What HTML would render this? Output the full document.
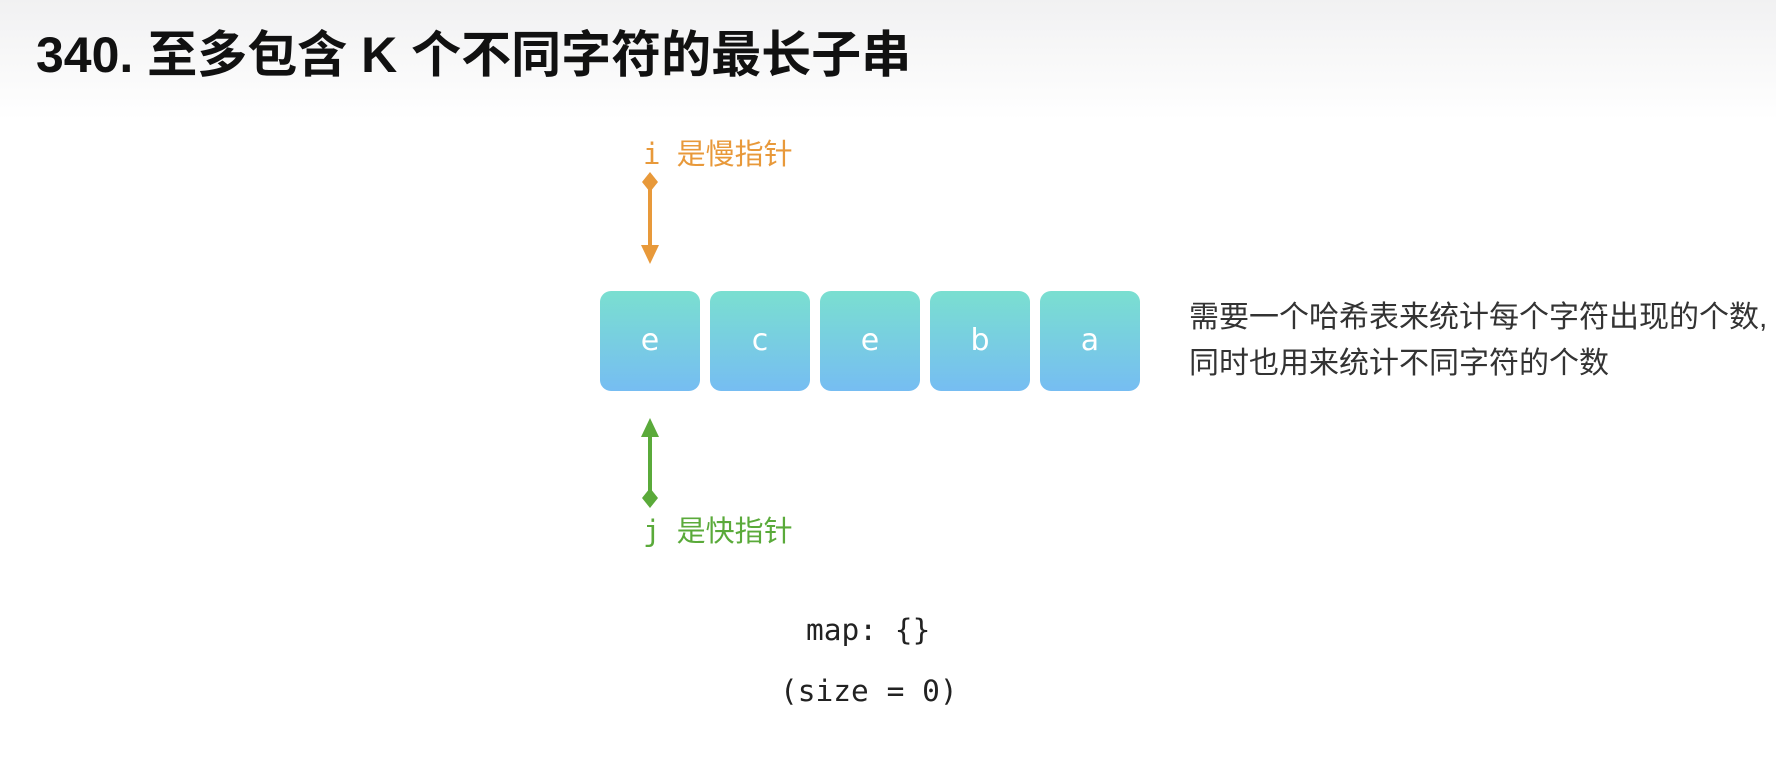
<!DOCTYPE html>
<html><head><meta charset="utf-8"><style>
body{margin:0;width:1776px;height:778px;overflow:hidden;background:#fff;position:relative;font-family:"Liberation Sans","Noto Sans CJK SC",sans-serif}
.hdr{position:absolute;left:0;top:0;width:1776px;height:120px;background:linear-gradient(#f1f1f2,#fff)}
.t{position:absolute;left:36px;top:25px;font-size:50px;font-weight:bold;color:#111;white-space:nowrap;line-height:60px}
.box{position:absolute;top:291px;width:100px;height:100px;border-radius:11px;background:linear-gradient(#7adfd0,#76bdf2);color:#fff;font:30px "DejaVu Sans",sans-serif;text-align:center;line-height:100px}
.lbl{position:absolute;font-size:29px;white-space:nowrap;line-height:36px}
.mono{position:absolute;font:29.5px "DejaVu Sans Mono","Liberation Mono",monospace;color:#222;white-space:pre}
.r{position:absolute;left:1189px;font-size:30px;color:#333;white-space:nowrap;line-height:36px}
</style></head><body>
<div class="hdr"></div>
<div class="t">340. 至多包含 K 个不同字符的最长子串</div>
<div class="box" style="left:600px">e</div>
<div class="box" style="left:710px">c</div>
<div class="box" style="left:820px">e</div>
<div class="box" style="left:930px">b</div>
<div class="box" style="left:1040px">a</div>
<div class="lbl" style="left:643px;top:136px;color:#e8993a"><span style="font-family:'DejaVu Sans Mono',monospace">i</span>&nbsp; 是慢指针</div>
<div class="lbl" style="left:643px;top:513px;color:#5aaa3a"><span style="font-family:'DejaVu Sans Mono',monospace">j</span>&nbsp; 是快指针</div>
<svg style="position:absolute;left:0;top:0" width="1776" height="778">
<line x1="650" y1="183" x2="650" y2="250" stroke="#e8993a" stroke-width="4"/>
<polygon points="650,172 658,182 650,192 642,182" fill="#e8993a"/>
<polygon points="641,245 659,245 650,264" fill="#e8993a"/>
<line x1="650" y1="432" x2="650" y2="495" stroke="#5aaa3a" stroke-width="4"/>
<polygon points="641,437 659,437 650,418" fill="#5aaa3a"/>
<polygon points="650,488 658,498 650,508 642,498" fill="#5aaa3a"/>
</svg>
<div class="r" style="top:300px">需要一个哈希表来统计每个字符出现的个数,</div>
<div class="r" style="top:346px">同时也用来统计不同字符的个数</div>
<div class="mono" style="left:806px;top:613px">map: {}</div>
<div class="mono" style="left:780px;top:674px">(size = 0)</div>
</body></html>
